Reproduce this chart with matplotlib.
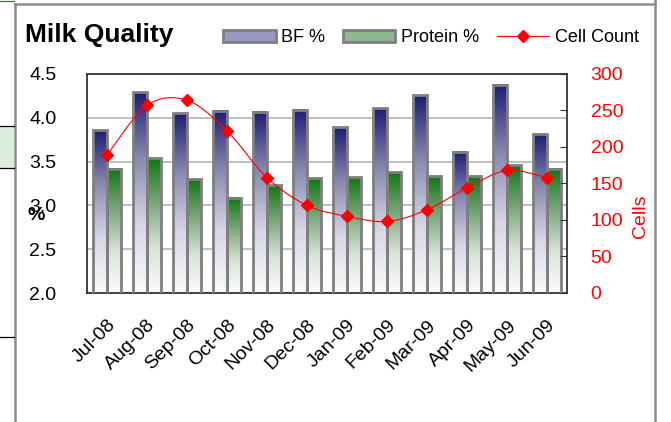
import numpy as np
import matplotlib
matplotlib.use('Agg')
import matplotlib.pyplot as plt
from matplotlib.path import Path
from matplotlib.patches import PathPatch, Rectangle, Patch
from matplotlib.lines import Line2D
from matplotlib.colors import LinearSegmentedColormap

plt.rcParams['font.family'] = ['Liberation Sans', 'DejaVu Sans']

# data
months = ['Jul-08', 'Aug-08', 'Sep-08', 'Oct-08', 'Nov-08', 'Dec-08',
          'Jan-09', 'Feb-09', 'Mar-09', 'Apr-09', 'May-09', 'Jun-09']
bf = [3.86, 4.29, 4.05, 4.08, 4.07, 4.09, 3.89, 4.11, 4.26, 3.61, 4.38, 3.81]
protein = [3.42, 3.54, 3.30, 3.09, 3.23, 3.31, 3.32, 3.38, 3.33, 3.33, 3.46, 3.42]
cells = [189, 257, 264, 222, 158, 120, 105, 98, 114, 144, 168, 158]

fig = plt.figure(figsize=(6.71, 4.22), dpi=100)
ax = fig.add_axes([87/671, 1-293/422, 480/671, 219/422])

x = np.arange(len(months))
w = 0.35
edge = '#7f7f7f'

cm_bf = LinearSegmentedColormap.from_list('bf', ['#fbfbfb', '#d8d8e6', '#8a8ab4', '#1c1c78'])
cm_pr = LinearSegmentedColormap.from_list('pr', ['#fbfbfb', '#d8e4d8', '#7aa87a', '#107810'])
grad = np.linspace(0, 1, 256).reshape(-1, 1)

b1 = ax.bar(x - w/2, bf, w, bottom=0, facecolor='none', edgecolor=edge, linewidth=2, zorder=3)
b2 = ax.bar(x + w/2, protein, w, bottom=0, facecolor='none', edgecolor=edge, linewidth=2, zorder=3)

for bars, cm in [(b1, cm_bf), (b2, cm_pr)]:
    for p in bars:
        x0 = p.get_x()
        x1 = x0 + p.get_width()
        top = p.get_height()
        ax.imshow(grad, cmap=cm, origin='lower', aspect='auto',
                  extent=(x0, x1, 2.0, top), zorder=2, interpolation='bilinear')

ax.set_xlim(-0.5, 11.5)
ax.set_ylim(2.0, 4.5)
ax.set_yticks([2.0, 2.5, 3.0, 3.5, 4.0, 4.5])
ax.set_yticklabels(['2.0', '2.5', '3.0', '3.5', '4.0', '4.5'], fontsize=14)
ax.set_xticks(x)
ax.set_xticklabels(months, fontsize=14, rotation=45, ha='right', rotation_mode='anchor')
ax.tick_params(axis='x', length=0, pad=17)
ax.tick_params(axis='y', length=0, pad=22)
ax.yaxis.grid(True, color='#b4b4b4', linewidth=1.2)
ax.set_axisbelow(True)
for s in ax.spines.values():
    s.set_color('#333333')
    s.set_linewidth(1.3)

# cell count on the right axis, smoothed like the spreadsheet line
ax2 = ax.twinx()
ax2.set_ylim(0, 300)
ax2.set_yticks([0, 50, 100, 150, 200, 250, 300])
ax2.tick_params(axis='y', colors='red', labelsize=14, direction='in', length=5, pad=17)
ax2.tick_params(axis='y', color='#333333')
for s in ax2.spines.values():
    s.set_visible(False)

px = list(x)
py = list(cells)
verts = [(px[0], py[0])]
codes = [Path.MOVETO]
n = len(px)
for i in range(n - 1):
    a = max(i - 1, 0)
    d = min(i + 2, n - 1)
    c1 = (px[i] + (px[i+1] - px[a]) / 6, py[i] + (py[i+1] - py[a]) / 6)
    c2 = (px[i+1] - (px[d] - px[i]) / 6, py[i+1] - (py[d] - py[i]) / 6)
    verts += [c1, c2, (px[i+1], py[i+1])]
    codes += [Path.CURVE4] * 3
ax2.add_patch(PathPatch(Path(verts, codes), facecolor='none', edgecolor='red', linewidth=0.8, zorder=4))
ax2.plot(x, cells, linestyle='none', marker='D', markersize=6.5, color='red', zorder=5)

fig.text(36/671, 1-215/422, '%', fontsize=14, fontweight='bold', ha='center', va='center')
fig.text(640/671, 1-216/422, 'Cells', fontsize=14, color='red', rotation=90, ha='center', va='center')
fig.text(25/671, 1-35/422, 'Milk Quality', fontsize=19, fontweight='bold', ha='left', va='center')

handles = [Patch(facecolor='#9898c0', edgecolor=edge, linewidth=2),
           Patch(facecolor='#90b890', edgecolor=edge, linewidth=2),
           Line2D([], [], color='red', linewidth=0.8, marker='D', markersize=6.5)]
fig.legend(handles, ['BF %', 'Protein %', 'Cell Count'], loc='center', bbox_to_anchor=(431/671, 1-38/422),
           ncol=3, frameon=False, fontsize=13, handlelength=2.9, handleheight=0.6,
           handletextpad=0.3, columnspacing=1.0, borderpad=0)

# spreadsheet frame around the chart
g = '#8c8c8c'
fig.add_artist(Line2D([15/671, 15/671], [0, 1-4/422], color=g, linewidth=1.8))
fig.add_artist(Line2D([655/671, 655/671], [0, 1], color=g, linewidth=1.8))
fig.add_artist(Line2D([15/671, 655/671], [1-4/422, 1-4/422], color=g, linewidth=1.8))
fig.add_artist(Rectangle((0, 1-168/422), 14/671, 42/422, facecolor='#dcefdc', edgecolor='none'))
fig.add_artist(Line2D([0, 14/671], [1-126/422, 1-126/422], color='black', linewidth=0.9))
fig.add_artist(Line2D([0, 14/671], [1-168/422, 1-168/422], color='black', linewidth=0.9))
fig.add_artist(Line2D([0, 14/671], [1-337/422, 1-337/422], color='black', linewidth=0.9))
fig.add_artist(Line2D([0, 14/671], [1-1/422, 1-1/422], color='#4a6a4a', linewidth=0.9))

fig.savefig('out.png', dpi=100)
